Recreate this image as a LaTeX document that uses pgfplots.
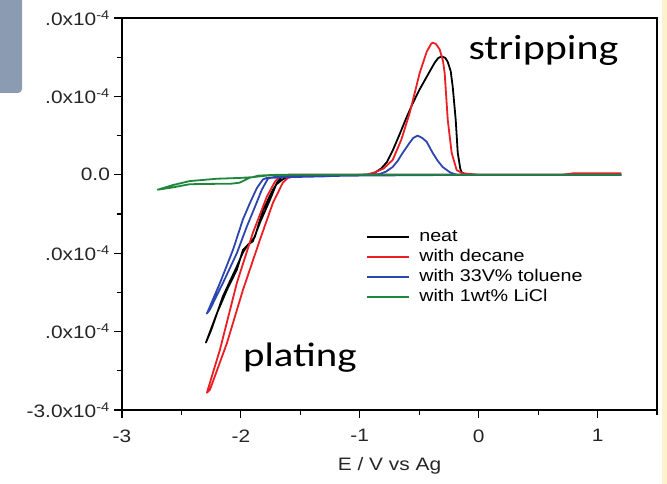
\documentclass[border=0pt]{standalone}
\usepackage{fontspec}
\setmainfont{Liberation Sans}
\newfontfamily\calib{Carlito}
\usepackage{pgfplots}
\pgfplotsset{compat=1.18}
\definecolor{cvred}{RGB}{235,30,35}
\definecolor{cvblue}{RGB}{45,70,175}
\definecolor{cvgreen}{RGB}{30,135,60}
\definecolor{graybox}{RGB}{138,155,178}
\definecolor{yelstrip}{RGB}{253,242,205}
\newcommand{\sx}[1]{\scalebox{1.16}[1]{#1}}
\begin{document}
\begin{tikzpicture}
\path[use as bounding box] (0pt,0pt) rectangle (667pt,483pt);
\fill[white] (0pt,0pt) rectangle (667pt,483pt);
\fill[graybox, rounded corners=4pt] (-8pt,390pt) rectangle (22pt,492pt);
\fill[yelstrip] (662pt,-2pt) rectangle (670pt,486pt);
\begin{axis}[
  at={(122pt,73pt)}, anchor=south west,
  scale only axis, width=535pt, height=392pt,
  xmin=-3, xmax=1.5, ymin=-3, ymax=2,
  axis line style={line width=1.2pt},
  tick style={line width=1.2pt, black},
  tick align=outside,
  xtick pos=bottom, ytick pos=left,
  major tick length=8pt, minor tick length=5pt,
  xtick={-3,-2,-1,0,1},
  xticklabels={-3,-2,-1,0,1},
  minor xtick={-2.5,-1.5,-0.5,0.5,1.5},
  ytick={-3,-2,-1,0,1,2},
  yticklabels={-3.0x10\textsuperscript{-4},.0x10\textsuperscript{-4},.0x10\textsuperscript{-4},0.0,.0x10\textsuperscript{-4},.0x10\textsuperscript{-4}},
  minor ytick={-2.5,-1.5,-0.5,0.5,1.5},
  every tick label/.append style={font=\fontsize{18}{20}\selectfont, xscale=1.16, text=black!85},
  xticklabel style={yshift=-8pt},
  xlabel={E / V vs Ag},
  xlabel style={font=\fontsize{18}{20}\selectfont, xscale=1.16, text=black!85, at={(axis description cs:0.5,-0.143)}, anchor=center},
  legend cell align=left,
  legend style={draw=none, fill=none, inner sep=0pt, outer sep=0pt,
    at={(axis description cs:0.457,0.468)}, anchor=north west,
    font=\fontsize{17}{19}\selectfont,
    nodes={text height=12.6pt, text depth=3.6pt, inner sep=2pt},
    row sep=0pt, column sep=7pt},
  legend image code/.code={\draw[#1, line width=1.8pt] (0pt,0pt) -- (42pt,0pt);},
]
% neat
\addplot[black, line width=1.8pt, line join=round] coordinates {
(1.2,0.0)(0.5,0.0)(0,0)(-0.5,0)(-1.0,0)(-1.4,0)(-1.6,-0.02)(-1.65,-0.06)(-1.70,-0.12)(-1.73,-0.19)(-1.815,-0.45)(-1.882,-0.79)(-1.924,-0.87)(-1.983,-0.96)(-2.034,-1.21)(-2.118,-1.47)(-2.20,-1.76)(-2.294,-2.14)
(-2.25,-1.98)(-2.151,-1.55)(-2.034,-1.17)(-1.983,-0.99)(-1.94,-0.89)(-1.90,-0.85)(-1.84,-0.61)(-1.756,-0.32)(-1.697,-0.10)(-1.66,-0.03)(-1.6,0)(-1.2,0)(-1.0,0)(-0.93,0.005)(-0.87,0.03)(-0.82,0.08)(-0.773,0.16)(-0.72,0.32)(-0.664,0.52)(-0.61,0.72)(-0.555,0.91)(-0.50,1.08)(-0.437,1.25)(-0.40,1.35)(-0.37,1.43)(-0.34,1.49)(-0.311,1.51)(-0.28,1.49)(-0.26,1.44)(-0.235,1.32)(-0.218,1.12)(-0.193,0.70)(-0.176,0.28)(-0.155,0.08)(-0.143,0.03)(-0.1,0.0)(0,0)(1.2,0)
};
\addlegendentry{\sx{neat}}
% decane
\addplot[cvred, line width=1.8pt, line join=round] coordinates {
(1.2,0.02)(0.8,0.02)(0.7,0)(0,0)(-0.5,0)(-1,0)(-1.5,0)(-1.605,-0.04)(-1.647,-0.10)(-1.731,-0.36)(-1.84,-0.83)(-1.983,-1.47)(-2.118,-2.15)(-2.26,-2.74)(-2.286,-2.78)
(-2.176,-2.23)(-2.034,-1.38)(-1.899,-0.74)(-1.782,-0.28)(-1.714,-0.09)(-1.68,-0.03)(-1.6,0)(-1.2,0)(-0.95,0.0)(-0.89,0.02)(-0.80,0.08)(-0.723,0.19)(-0.65,0.45)(-0.580,0.79)(-0.54,1.03)(-0.496,1.30)(-0.437,1.57)(-0.40,1.67)(-0.387,1.685)(-0.36,1.67)(-0.328,1.60)(-0.30,1.45)(-0.286,1.30)(-0.26,0.70)(-0.227,0.28)(-0.185,0.06)(-0.135,0.02)(0,0.0)(0.7,0.0)
};
\addlegendentry{\sx{with decane}}
% toluene
\addplot[cvblue, line width=1.8pt, line join=round] coordinates {
(1.2,0)(0,0)(-1,-0.01)(-1.5,-0.02)(-1.70,-0.02)(-1.773,-0.05)(-1.824,-0.19)(-1.882,-0.41)(-1.950,-0.66)(-2.034,-1.00)(-2.151,-1.38)(-2.261,-1.72)(-2.286,-1.77)
(-2.176,-1.38)(-2.067,-0.96)(-1.983,-0.57)(-1.924,-0.36)(-1.866,-0.17)(-1.815,-0.06)(-1.782,-0.04)(-1.6,-0.03)(-1.3,-0.02)(-1.0,0)(-0.9,0)(-0.832,0.01)(-0.78,0.04)(-0.723,0.10)(-0.68,0.18)(-0.639,0.28)(-0.580,0.41)(-0.55,0.47)(-0.513,0.50)(-0.475,0.47)(-0.437,0.42)(-0.387,0.28)(-0.345,0.18)(-0.303,0.10)(-0.24,0.03)(-0.185,0.0)(0,0)(1.2,0)
};
\addlegendentry{\sx{with 33V\% toluene}}
% LiCl
\addplot[cvgreen, line width=1.8pt, line join=round] coordinates {
(1.2,0)(0,0)(-1,0)(-1.6,0)(-1.78,-0.01)(-1.90,-0.03)(-2.01,-0.04)(-2.20,-0.05)(-2.43,-0.08)(-2.57,-0.13)(-2.70,-0.19)
(-2.57,-0.16)(-2.43,-0.12)(-2.20,-0.115)(-2.09,-0.115)(-2.01,-0.10)(-1.93,-0.04)(-1.85,-0.01)(-1.7,0)(1.2,0)
};
\addlegendentry{\sx{with 1wt\% LiCl}}
\node[font=\calib\fontsize{35}{38}\selectfont, xscale=1.2, anchor=base] at (axis cs:0.545,1.468) {stripping};
\node[font=\calib\fontsize{34}{38}\selectfont, xscale=1.2, anchor=base] at (axis cs:-1.504,-2.44) {plating};
\end{axis}
\end{tikzpicture}
\end{document}
